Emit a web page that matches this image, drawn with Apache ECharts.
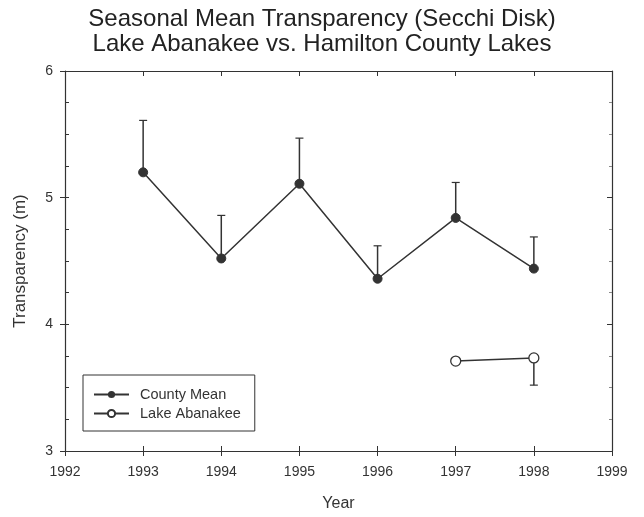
<!DOCTYPE html>
<html>
<head>
<meta charset="utf-8">
<script src="https://cdn.jsdelivr.net/npm/echarts@6/dist/echarts.min.js"></script>
<style>html,body{margin:0;padding:0;background:#fff;}#c{width:644px;height:517px;}</style>
</head>
<body>
<div id="c"></div>
<script>
var years = [1993, 1994, 1995, 1996, 1997, 1998];
var countyMean = [5.20, 4.52, 5.11, 4.36, 4.84, 4.44];
var countyUpper = [5.61, 4.86, 5.47, 4.62, 5.12, 4.69];
var lakeYears = [1997, 1998];
var lakeMean = [3.71, 3.735];
var lakeLower = [null, 3.52];
var xTicks = [1992, 1993, 1994, 1995, 1996, 1997, 1998, 1999];
var yTicks = [3, 4, 5, 6];

var FONT = 'Liberation Sans, Arial, sans-serif';
var INK = '#333';

function errData(xs, ys, es) {
  var out = [];
  for (var i = 0; i < xs.length; i++) {
    if (es[i] != null) out.push([xs[i], ys[i], es[i]]);
  }
  return out;
}

function renderErr(params, api) {
  var p0 = api.coord([api.value(0), api.value(1)]);
  var p1 = api.coord([api.value(0), api.value(2)]);
  var cap = 4;
  return {
    type: 'group',
    children: [
      {type: 'line', shape: {x1: p0[0], y1: p0[1], x2: p1[0], y2: p1[1]}, style: {stroke: INK, lineWidth: 1.5}},
      {type: 'line', shape: {x1: p1[0] - cap, y1: p1[1], x2: p1[0] + cap, y2: p1[1]}, style: {stroke: INK, lineWidth: 1.2}}
    ]
  };
}

var xMin = xTicks[0], xMax = xTicks[xTicks.length - 1];
var yMin = yTicks[0], yMax = yTicks[yTicks.length - 1];

function xAx(extra) {
  return Object.assign({
    type: 'value', min: xMin, max: xMax, interval: 1,
    axisLine: {show: true, lineStyle: {color: INK, width: 1.2}},
    splitLine: {show: false},
    axisLabel: {show: false}
  }, extra);
}
function yAx(extra) {
  return Object.assign({
    type: 'value', min: yMin, max: yMax, interval: 1,
    axisLine: {show: true, lineStyle: {color: INK, width: 1.2}},
    splitLine: {show: false},
    axisLabel: {show: false}
  }, extra);
}

var chart = echarts.init(document.getElementById('c'));
chart.setOption({
  animation: false,
  backgroundColor: '#fff',
  title: {
    text: 'Seasonal Mean Transparency (Secchi Disk)\nLake Abanakee vs. Hamilton County Lakes',
    left: 'center',
    top: 2,
    textStyle: {fontFamily: FONT, fontSize: 24, fontWeight: 'normal', color: '#222', lineHeight: 25}
  },
  grid: {left: 65, right: 32, top: 71, bottom: 65},
  legend: {
    orient: 'vertical',
    left: 83,
    top: 375,
    itemWidth: 35,
    itemHeight: 9,
    itemGap: 4,
    padding: [12, 14, 10, 10],
    borderColor: INK,
    borderWidth: 1,
    textStyle: {fontFamily: FONT, fontSize: 14.5, color: INK, padding: [0, 0, 0, 6]},
    data: ['County Mean', 'Lake Abanakee']
  },
  xAxis: [
    xAx({
      name: 'Year', nameLocation: 'middle', nameGap: 45,
      nameTextStyle: {fontFamily: FONT, fontSize: 16, color: INK},
      axisTick: {show: true, inside: true, length: 5, lineStyle: {color: INK}},
      axisLabel: {show: true, fontFamily: FONT, fontSize: 14, color: INK, margin: 14, formatter: function (v) { return String(v); }}
    }),
    xAx({position: 'top', axisTick: {show: true, inside: true, length: 5, lineStyle: {color: INK}}}),
    xAx({position: 'bottom', axisLine: {show: false}, axisTick: {show: true, inside: false, length: 5, lineStyle: {color: INK}}})
  ],
  yAxis: [
    yAx({
      position: 'left',
      name: 'Transparency (m)', nameLocation: 'middle', nameGap: 36,
      nameTextStyle: {fontFamily: FONT, fontSize: 17, color: INK},
      axisTick: {show: true, inside: true, length: 4, lineStyle: {color: INK}},
      minorTick: {show: true, splitNumber: 4, length: 4, lineStyle: {color: INK}},
      axisLabel: {show: true, fontFamily: FONT, fontSize: 14, color: INK, margin: 12}
    }),
    yAx({position: 'right',
      axisTick: {show: true, inside: true, length: 5, lineStyle: {color: INK}},
      minorTick: {show: true, splitNumber: 4, length: 3, lineStyle: {color: '#888'}}
    }),
    yAx({position: 'left', axisLine: {show: false},
      axisTick: {show: true, inside: false, length: 5, lineStyle: {color: INK}}
    })
  ],
  series: [
    {
      name: 'County Mean',
      type: 'line',
      data: years.map(function (y, i) { return [y, countyMean[i]]; }),
      symbol: 'circle',
      symbolSize: 9,
      lineStyle: {color: INK, width: 1.5},
      itemStyle: {color: INK, borderColor: INK}
    },
    {
      name: 'Lake Abanakee',
      type: 'line',
      data: lakeYears.map(function (y, i) { return [y, lakeMean[i]]; }),
      symbol: 'circle',
      symbolSize: 10,
      lineStyle: {color: INK, width: 1.5},
      itemStyle: {color: '#fff', borderColor: INK, borderWidth: 1.3}
    },
    {
      type: 'custom',
      renderItem: renderErr,
      data: errData(years, countyMean, countyUpper),
      z: 1
    },
    {
      type: 'custom',
      renderItem: renderErr,
      data: errData(lakeYears, lakeMean, lakeLower),
      z: 1
    }
  ]
});
</script>
</body>
</html>
